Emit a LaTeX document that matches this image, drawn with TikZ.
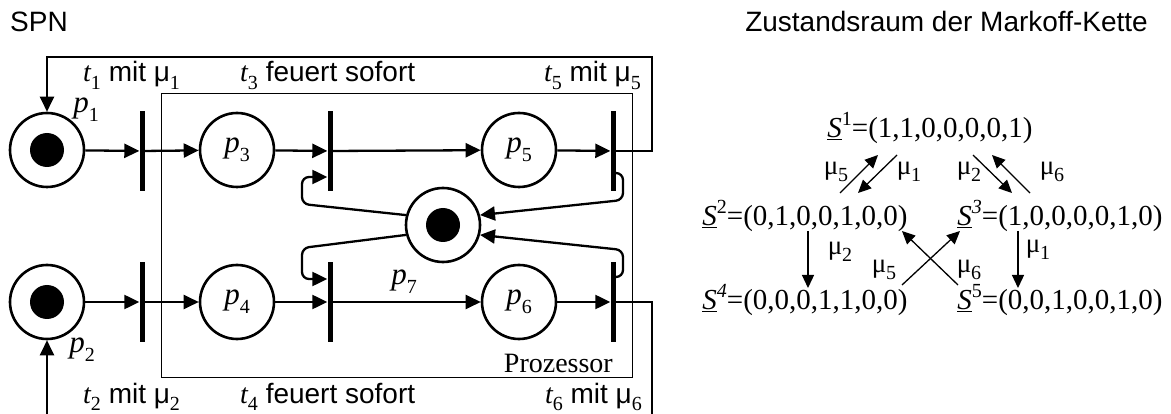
\documentclass[tikz,border=0pt]{standalone}
\usepackage{fontspec}
\setmainfont{Liberation Sans}
\newfontfamily\tms{Liberation Serif}
\usetikzlibrary{arrows.meta,calc}
\newcommand\lo[1]{\raisebox{-0.28em}{\fontsize{20}{20}\selectfont #1}}
\newcommand\hi[1]{\raisebox{0.42em}{\fontsize{20}{20}\selectfont #1}}
\newcommand\tv[1]{{\tms\itshape t}\lo{\tms #1}}
\newcommand\pv[1]{{\tms\itshape p}\lo{\tms #1}}
\newcommand\mus[1]{μ\lo{\tms #1}}
\newcommand\mut[1]{{\tms μ\lo{#1}}}
\newcommand\Sv[2]{{\tms\underline{\itshape S}\hi{#1}=(#2)}}
\begin{document}
\begin{tikzpicture}[x=1pt,y=-1pt,font=\fontsize{28}{33}\selectfont,
  place/.style={circle,draw,line width=2.6pt,minimum size=74pt,inner sep=0pt,font=\fontsize{31}{31}\selectfont},
  bar/.style={rectangle,fill=black,minimum width=5pt,minimum height=80pt,inner sep=0pt},
  flow/.style={line width=2.3pt,-{Triangle[length=15pt,width=14pt]}},
  plain/.style={line width=2.3pt},
  mk/.style={line width=1.3pt,-{Triangle[length=13pt,width=12pt]}},
  st/.style={anchor=base,font=\tms\fontsize{29}{30}\selectfont,inner sep=0pt},
  ml/.style={font=\tms\fontsize{27}{28}\selectfont,inner sep=0pt}]
\useasboundingbox (0,0) rectangle (1171,414);
% titles
\node[anchor=base west,inner sep=0pt] (title1) at (10,32) {SPN};
\node[anchor=base east,inner sep=0pt] (title2) at (1148,32) {Zustandsraum der Markoff-Kette};
% processor box
\draw[line width=1pt] (161,94) rectangle (632,377);
\node[anchor=base east,inner sep=0pt,font=\tms\fontsize{28}{30}\selectfont] (proz) at (613,372) {Prozessor};
% places
\node[place] (p1) at (47,150) {};
\node[place] (p2) at (47,302) {};
\node[place] (p3) at (237,150) {\pv3};
\node[place] (p4) at (237,302) {\pv4};
\node[place] (p5) at (519,150) {\pv5};
\node[place] (p6) at (519,302) {\pv6};
\node[place] (p7) at (443,225) {};
\fill (p1) circle (17);
\fill (p2) circle (17);
\fill (p7) circle (17);
% transitions
\node[bar] (t1) at (142,151) {};
\node[bar] (t3) at (330,151) {};
\node[bar] (t5) at (613,151) {};
\node[bar] (t2) at (142,302) {};
\node[bar] (t4) at (330,302) {};
\node[bar] (t6) at (613,302) {};
% arcs
\draw[flow] (p1) -- (t1);
\draw[flow] (t1) -- (p3);
\draw[flow] (p3) -- (t3);
\draw[flow] (t3) -- (p5);
\draw[flow] (p5) -- (t5);
\draw[flow] (p2) -- (t2);
\draw[flow] (t2) -- (p4);
\draw[flow] (p4) -- (t4);
\draw[flow] (t4) -- (p6);
\draw[flow] (p6) -- (t6);
\coordinate (c1) at (652,151);
\coordinate (c2) at (652,57);
\coordinate (c3) at (47,57);
\draw[flow] (t5.center) -- (c1) -- (c2) -- (c3) -- (p1);
\coordinate (c4) at (652,302);
\coordinate (c5) at (652,414);
\coordinate (c6) at (47,414);
\draw[plain] (t6.center) -- (c4) -- (c5);
\draw[flow] (c6) -- (p2);
\draw[flow,rounded corners=7pt] ($(t5.east)+(0,22)$) -- (623,173) -- (623,200) -- (p7.15);
\draw[flow,rounded corners=7pt] ($(t6.east)+(0,-25)$) -- (623,277) -- (623,250) -- (p7.-15);
\draw[flow,rounded corners=7pt] (p7.165) -- (302,204) -- (302,177) -- ($(t3.west)+(0,26)$);
\draw[flow,rounded corners=7pt] (p7.195) -- (302,248) -- (302,279) -- ($(t4.west)+(0,-23)$);
% place labels
\node[font=\fontsize{31}{31}\selectfont] (lp1) at (86,110) {\pv1};
\node[font=\fontsize{31}{31}\selectfont] (lp2) at (82,350) {\pv2};
\node[font=\fontsize{31}{31}\selectfont] (lp7) at (404,282) {\pv7};
% transition labels
\node[anchor=base west,inner sep=0pt] (l1) at (83,82) {\tv1 mit \mus1};
\node[anchor=base west,inner sep=0pt] (l3) at (240,82) {\tv3 feuert sofort};
\node[anchor=base east,inner sep=0pt] (l5) at (641,82) {\tv5 mit \mus5};
\node[anchor=base west,inner sep=0pt] (l2) at (83,403) {\tv2 mit \mus2};
\node[anchor=base west,inner sep=0pt] (l4) at (240,403) {\tv4 feuert sofort};
\node[anchor=base east,inner sep=0pt] (l6) at (642,403) {\tv6 mit \mus6};
% state space
\node[st] (s1) at (930,138) {\Sv{1}{1,1,0,0,0,0,1}};
\node[st] (s2) at (805,226) {\Sv{2}{0,1,0,0,1,0,0}};
\node[st] (s3) at (1060,226) {\Sv{\itshape 3}{1,0,0,0,0,1,0}};
\node[st] (s4) at (805,310) {\Sv{\itshape 4}{0,0,0,1,1,0,0}};
\node[st] (s5) at (1060,310) {\Sv{5}{0,0,1,0,0,1,0}};
\coordinate (a1) at (840,193); \coordinate (b1) at (878,155);
\coordinate (a2) at (897,155); \coordinate (b2) at (858,193);
\coordinate (a3) at (973,155); \coordinate (b3) at (1012,193);
\coordinate (a4) at (1030,193); \coordinate (b4) at (992,155);
\coordinate (a5) at (808,231); \coordinate (b5) at (808,288);
\coordinate (a6) at (1018,231); \coordinate (b6) at (1018,288);
\coordinate (a7) at (902,285); \coordinate (b7) at (960,231);
\coordinate (a8) at (958,285); \coordinate (b8) at (902,231);
\draw[mk] (a1) -- (b1);
\draw[mk] (a2) -- (b2);
\draw[mk] (a3) -- (b3);
\draw[mk] (a4) -- (b4);
\draw[mk] (a5) -- (b5);
\draw[mk] (a6) -- (b6);
\draw[mk] (a7) -- (b7);
\draw[mk] (a8) -- (b8);
\node[ml] (m1) at (836,172) {\mut5};
\node[ml] (m2) at (909,172) {\mut1};
\node[ml] (m3) at (969,172) {\mut2};
\node[ml] (m4) at (1052,172) {\mut6};
\node[ml] (m5) at (840,252) {\mut2};
\node[ml] (m6) at (884,270) {\mut5};
\node[ml] (m7) at (969,270) {\mut6};
\node[ml] (m8) at (1038,250) {\mut1};
\end{tikzpicture}
\end{document}
